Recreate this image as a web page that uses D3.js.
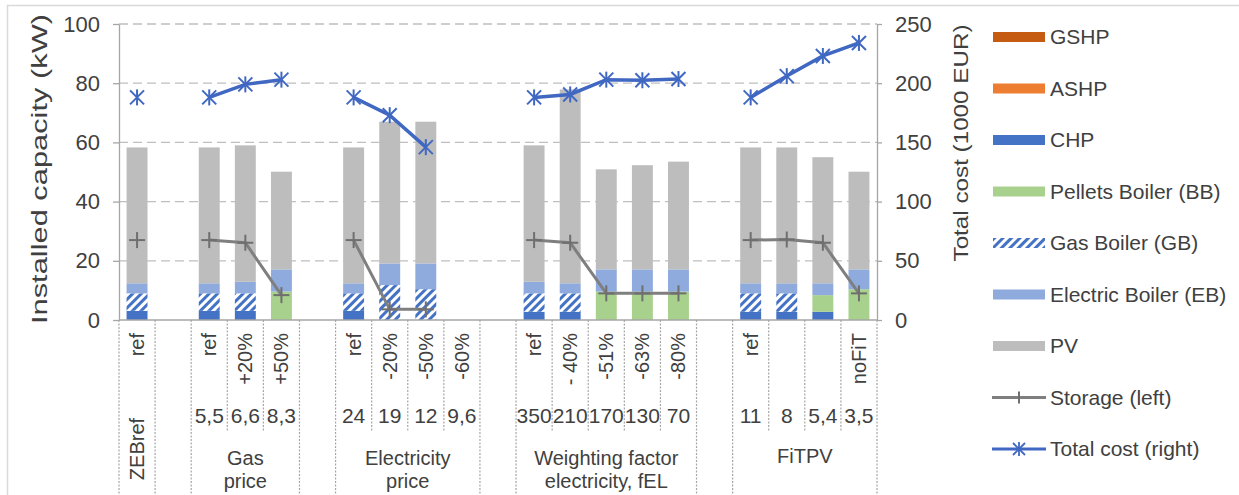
<!DOCTYPE html>
<html><head><meta charset="utf-8">
<script src="https://cdn.jsdelivr.net/npm/d3@7"></script>
<style>
body{margin:0;background:#fff;}
text{font-family:"Liberation Sans",Arial,sans-serif;fill:#404040;}
</style></head>
<body><svg id="c" width="1239" height="495"></svg>
<script>
// ---- data ----
const catLabels = ["ref","","ref","+20%","+50%","","ref","-20%","-50%","-60%","","ref","- 40%","-51%","-63%","-80%","","ref","","","noFiT"];
const paramValues = ["","","5,5","6,6","8,3","","24","19","12","9,6","","350","210","170","130","70","","11","8","5,4","3,5"];
const groupNames = ["ZEBref","","Gas\nprice","","Electricity\nprice","","Weighting factor\nelectricity, fEL","","FiTPV"];
const groupStart = [0,1,2,5,6,10,11,16,17];
const groupEnd   = [0,1,4,5,9,10,15,16,20];
const GSHP   = [0,0,0,0,0,0,0,0,0,0,0,0,0,0,0,0,0,0,0,0,0];
const ASHP   = [0,0,0,0,0,0,0,0,0,0,0,0,0,0,0,0,0,0,0,0,0];
const CHP    = [3.1,0,3.1,3.1,0,0,3.1,0,0,0,0,2.8,2.8,0,0,0,0,2.8,2.8,2.8,0];
const pellets= [0,0,0,0,9.6,0,0,0,0,0,0,0,0,9.6,9.6,9.6,0,0,0,5.6,10.4];
const gasBoiler=[5.9,0,5.9,5.9,0,0,5.9,11.8,10.4,0,0,6.2,6.2,0,0,0,0,6.2,6.2,0,0];
const elecBoiler=[3.4,0,3.4,3.9,7.5,0,3.4,7.3,8.7,0,0,3.9,3.4,7.5,7.5,7.5,0,3.4,3.4,4.0,6.7];
const PV     = [45.9,0,45.9,46.1,33.0,0,45.9,47.9,47.9,0,0,46.1,65.5,33.8,35.2,36.4,0,45.9,45.9,42.6,33.0];
const storage= [27,null,27,26.1,8.4,null,27,3.6,3.6,null,null,27,26.1,9,9,9,null,27,27.2,26.1,9];
const totalCost=[188,null,188,199,203,null,188,173,146,null,null,188,190.5,203,202.5,203.5,null,188,206,223,234];
const leftTicks = [0,20,40,60,80,100];
const rightTicks = [0,50,100,150,200,250];
const seriesNames = ["GSHP","ASHP","CHP","Pellets Boiler (BB)","Gas Boiler (GB)","Electric Boiler (EB)","PV"];
const seriesColors = ["#C55A11","#ED7D31","#4472C4","#A9D18E","url(#hatch)","#8FAADC","#BDBDBD"];

// ---- layout ----
const svg = d3.select("#c");
const X0=119, X1=877, Y0=320, Y1=24;
const n = catLabels.length;
const x = d3.scaleBand().domain(d3.range(n)).range([X0,X1]).paddingInner(0.42).paddingOuter(0.21);
const step = x.step();
const yL = d3.scaleLinear().domain([0,100]).range([Y0,Y1]);
const yR = d3.scaleLinear().domain([0,250]).range([Y0,Y1]);

const defs = svg.append("defs");
const pat = defs.append("pattern").attr("id","hatch").attr("patternUnits","userSpaceOnUse")
  .attr("width",6).attr("height",6).attr("patternTransform","rotate(45)");
pat.append("rect").attr("width",6).attr("height",6).attr("fill","#fff");
pat.append("rect").attr("width",3).attr("height",6).attr("fill","#4472C4");

// chart border
svg.append("rect").attr("x",7.5).attr("y",5.5).attr("width",1240).attr("height",500)
  .attr("fill","none").attr("stroke","#D9D9D9").attr("stroke-width",1.5);

// gridlines
svg.append("g").selectAll("line").data(leftTicks.filter(d=>d>0)).join("line")
  .attr("x1",X0).attr("x2",X1).attr("y1",d=>yL(d)).attr("y2",d=>yL(d))
  .attr("stroke","#BFBFBF").attr("stroke-width",1.3).attr("stroke-dasharray","9,5");

// bars
const rows = d3.range(n).map(i=>({i, GSHP:GSHP[i], ASHP:ASHP[i], CHP:CHP[i], BB:pellets[i], GB:gasBoiler[i], EB:elecBoiler[i], PV:PV[i]}));
const keys = ["GSHP","ASHP","CHP","BB","GB","EB","PV"];
const stacked = d3.stack().keys(keys)(rows);
svg.append("g").selectAll("g").data(stacked).join("g")
  .attr("fill",(d,k)=>seriesColors[k])
  .selectAll("rect").data(d=>d.filter(s=>s[1]-s[0]>0)).join("rect")
  .attr("x",d=>x(d.data.i)).attr("width",x.bandwidth())
  .attr("y",d=>yL(d[1])).attr("height",d=>yL(d[0])-yL(d[1]));

// axes
const axL = svg.append("g").attr("transform",`translate(${X0},0)`)
  .call(d3.axisLeft(yL).tickValues(leftTicks).tickSize(6).tickSizeOuter(0).tickPadding(13));
const axR = svg.append("g").attr("transform",`translate(${X1},0)`)
  .call(d3.axisRight(yR).tickValues(rightTicks).tickSize(5).tickSizeOuter(0).tickPadding(13));
[axL,axR].forEach(a=>{
  a.selectAll("path,line").attr("stroke","#A6A6A6").attr("stroke-width",1.3);
  a.selectAll("text").style("font-size","22px").attr("fill","#404040").style("font-family","Liberation Sans, Arial, sans-serif");
});
// x axis line
svg.append("line").attr("x1",X0).attr("x2",X1).attr("y1",Y0).attr("y2",Y0).attr("stroke","#A6A6A6").attr("stroke-width",1.3);

// lines
const lineStorage = d3.line().defined(d=>d!=null).x((d,i)=>x(i)+x.bandwidth()/2).y(d=>yL(d));
const lineCost = d3.line().defined(d=>d!=null).x((d,i)=>x(i)+x.bandwidth()/2).y(d=>yR(d));
svg.append("path").attr("d",lineStorage(storage)).attr("fill","none").attr("stroke","#7F7F7F").attr("stroke-width",3);
svg.append("path").attr("d",lineCost(totalCost)).attr("fill","none").attr("stroke","#4068C2").attr("stroke-width",3.5);
// markers
const plus = svg.append("g").attr("stroke","#6F6F6F").attr("stroke-width",2);
storage.forEach((v,i)=>{ if(v==null) return; const cx=x(i)+x.bandwidth()/2, cy=yL(v);
  plus.append("line").attr("x1",cx-8).attr("x2",cx+8).attr("y1",cy).attr("y2",cy);
  plus.append("line").attr("x1",cx).attr("x2",cx).attr("y1",cy-8).attr("y2",cy+8);
});
const star = svg.append("g").attr("stroke","#4068C2").attr("stroke-width",2);
totalCost.forEach((v,i)=>{ if(v==null) return; const cx=x(i)+x.bandwidth()/2, cy=yR(v);
  star.append("line").attr("x1",cx-7).attr("x2",cx+7).attr("y1",cy-7).attr("y2",cy+7);
  star.append("line").attr("x1",cx-7).attr("x2",cx+7).attr("y1",cy+7).attr("y2",cy-7);
  star.append("line").attr("x1",cx).attr("x2",cx).attr("y1",cy-8).attr("y2",cy+8);
});

// category axis separators
const sep = svg.append("g").attr("stroke","#A6A6A6").attr("stroke-width",1.2).attr("stroke-dasharray","2,1.5");
const boundaries = new Set();
groupStart.forEach(s=>boundaries.add(s)); boundaries.add(n);
for(let b=0;b<=n;b++){
  const xx = X0 + b*step;
  const full = boundaries.has(b);
  sep.append("line").attr("x1",xx).attr("x2",xx).attr("y1",Y0).attr("y2",full?494:432);
}
// level 1 rotated labels
svg.append("g").selectAll("text").data(catLabels).join("text")
  .attr("transform",(d,i)=>`translate(${x(i)+x.bandwidth()/2+7},333) rotate(-90)`)
  .attr("text-anchor","end").style("font-size","20px").text(d=>d);
// level 2 values
svg.append("g").selectAll("text").data(paramValues).join("text")
  .attr("x",(d,i)=>x(i)+x.bandwidth()/2).attr("y",423).attr("text-anchor","middle")
  .style("font-size","21px").text(d=>d);
// level 3 groups
groupNames.forEach((g,k)=>{
  if(!g) return;
  const cx = X0 + (groupStart[k]+groupEnd[k]+1)/2*step;
  if(g==="ZEBref"){
    svg.append("text").attr("transform",`translate(${cx+7},449) rotate(-90)`).attr("text-anchor","middle")
      .style("font-size","20px").text(g);
    return;
  }
  const parts = g.split("\n");
  parts.forEach((p,j)=>{
    svg.append("text").attr("x",cx).attr("y",parts.length===1?463:465+j*23).attr("text-anchor","middle")
      .style("font-size","20px").text(p);
  });
});

// axis titles
svg.append("text").attr("transform","translate(47,169) rotate(-90)").attr("text-anchor","middle")
  .style("font-size","22px").attr("textLength",310).attr("lengthAdjust","spacingAndGlyphs").text("Installed capacity (kW)");
svg.append("text").attr("transform","translate(968,143) rotate(-90)").attr("text-anchor","middle")
  .style("font-size","21px").attr("textLength",237).attr("lengthAdjust","spacingAndGlyphs").text("Total cost (1000 EUR)");

// legend
const lg = svg.append("g");
const legY0=37, legDy=51.5;
seriesNames.forEach((s,k)=>{
  const yy = legY0 + k*legDy;
  lg.append("rect").attr("x",993).attr("y",yy-5).attr("width",52).attr("height",10).attr("fill",seriesColors[k]);
  lg.append("text").attr("x",1050).attr("y",yy+7).style("font-size","21px").text(s);
});
// storage legend
{
  const yy = legY0 + 7*legDy;
  lg.append("line").attr("x1",992).attr("x2",1046).attr("y1",yy).attr("y2",yy).attr("stroke","#7F7F7F").attr("stroke-width",3);
  lg.append("line").attr("x1",1019).attr("x2",1019).attr("y1",yy-6).attr("y2",yy+6).attr("stroke","#6F6F6F").attr("stroke-width",2);
  lg.append("text").attr("x",1050).attr("y",yy+7).style("font-size","21px").text("Storage (left)");
}
{
  const yy = legY0 + 8*legDy;
  lg.append("line").attr("x1",992).attr("x2",1046).attr("y1",yy).attr("y2",yy).attr("stroke","#4068C2").attr("stroke-width",3);
  const cx=1019;
  [[-6,-6,6,6],[-6,6,6,-6],[0,-7,0,7]].forEach(a=>lg.append("line").attr("x1",cx+a[0]).attr("y1",yy+a[1]).attr("x2",cx+a[2]).attr("y2",yy+a[3]).attr("stroke","#4068C2").attr("stroke-width",1.8));
  lg.append("text").attr("x",1050).attr("y",yy+7).style("font-size","21px").text("Total cost (right)");
}
</script></body></html>
